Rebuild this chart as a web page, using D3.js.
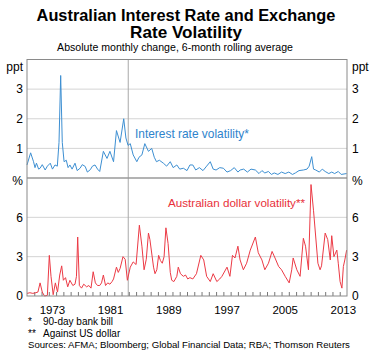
<!DOCTYPE html>
<html>
<head>
<meta charset="utf-8">
<script src="https://cdn.jsdelivr.net/npm/d3@7"></script>
<style>
  body { margin: 0; background: #fff; }
  svg { font-family: Arial, "Liberation Sans", sans-serif; }
</style>
</head>
<body>
<div id="chart"></div>
<script>
// Interest rate volatility (ppt), [decimal year, value]
const rateVol = [
  [1970.0,0.44],[1970.5,0.85],[1970.9,0.55],[1971.1,0.35],[1971.3,0.5],[1971.6,0.3],[1971.8,0.33],
  [1972.1,0.45],[1972.5,0.27],[1972.8,0.4],[1973.2,0.5],[1973.5,0.3],[1973.85,0.44],[1974.17,0.4],
  [1974.4,1.2],[1974.63,3.46],[1974.85,1.2],[1975.1,0.55],[1975.4,0.6],[1975.65,0.35],[1975.9,0.44],
  [1976.2,0.3],[1976.6,0.5],[1976.9,0.25],[1977.3,0.33],[1977.6,0.45],[1978.0,0.39],[1978.3,0.2],
  [1978.7,0.28],[1979.0,0.4],[1979.35,0.44],[1979.7,0.3],[1980.0,0.22],[1980.5,0.9],[1981.0,0.66],
  [1981.4,0.9],[1981.9,0.55],[1982.3,1.6],[1982.8,1.2],[1983.3,2.0],[1983.6,1.35],[1983.9,1.1],
  [1984.2,1.16],[1984.6,0.78],[1985.1,0.55],[1985.4,0.7],[1985.8,0.78],[1986.2,1.16],[1986.7,0.9],
  [1987.15,1.0],[1987.5,0.7],[1987.8,0.55],[1988.2,0.6],[1988.75,0.5],[1989.2,0.4],[1989.7,0.55],
  [1990.1,0.35],[1990.6,0.44],[1991.0,0.3],[1991.5,0.33],[1992.0,0.25],[1992.4,0.44],[1992.8,0.44],
  [1993.2,0.27],[1993.7,0.35],[1994.2,0.25],[1994.7,0.4],[1995.2,0.55],[1995.6,0.3],[1996.0,0.27],
  [1996.5,0.35],[1997.0,0.33],[1997.5,0.2],[1998.0,0.25],[1998.5,0.35],[1999.0,0.2],[1999.3,0.27],
  [1999.8,0.3],[2000.3,0.2],[2000.8,0.3],[2001.4,0.27],[2001.9,0.15],[2002.3,0.25],[2002.7,0.17],
  [2003.2,0.22],[2003.6,0.12],[2004.0,0.17],[2004.5,0.12],[2005.0,0.2],[2005.5,0.15],[2006.0,0.2],
  [2006.5,0.12],[2006.9,0.17],[2007.4,0.25],[2008.0,0.27],[2008.5,0.3],[2008.8,0.4],[2009.15,0.72],
  [2009.4,0.3],[2009.7,0.27],[2010.2,0.2],[2010.6,0.3],[2011.0,0.22],[2011.5,0.15],[2011.9,0.2],
  [2012.3,0.15],[2012.8,0.22],[2013.2,0.12],[2013.95,0.15]
];

// Australian dollar volatility (%), [decimal year, value]
const audVol = [
  [1970.0,0.2],[1970.4,0.25],[1970.8,0.2],[1971.2,0.25],[1971.5,0.3],[1971.8,1.0],[1972.1,0.3],
  [1972.4,0.0],[1972.8,0.05],[1973.07,3.1],[1973.3,1.5],[1973.6,0.1],[1973.9,1.0],[1974.2,0.3],
  [1974.5,1.6],[1974.77,2.3],[1975.0,1.2],[1975.3,1.4],[1975.6,0.7],[1975.9,1.2],[1976.3,0.8],
  [1976.6,0.9],[1976.8,1.5],[1976.97,4.5],[1977.2,0.8],[1977.5,0.6],[1977.8,0.9],[1978.2,0.7],
  [1978.5,0.8],[1978.8,0.6],[1979.1,1.85],[1979.4,1.0],[1979.7,0.8],[1980.0,0.8],[1980.25,1.0],
  [1980.5,1.6],[1980.8,0.8],[1981.1,1.0],[1981.4,0.9],[1981.7,1.1],[1981.9,1.3],[1982.3,2.2],
  [1982.55,1.8],[1982.8,2.1],[1983.2,3.0],[1983.5,2.8],[1983.8,1.2],[1984.2,2.2],[1984.6,2.6],
  [1985.0,2.4],[1985.45,5.4],[1985.8,3.8],[1986.1,2.0],[1986.4,2.8],[1986.7,4.8],[1986.9,4.3],
  [1987.4,2.2],[1987.6,1.7],[1987.85,2.0],[1988.1,3.1],[1988.35,2.7],[1988.6,2.5],[1988.85,3.0],
  [1989.1,5.2],[1989.4,4.0],[1989.7,1.8],[1989.9,1.2],[1990.2,1.1],[1990.6,1.5],[1990.8,2.2],
  [1991.1,1.7],[1991.5,1.5],[1991.8,1.6],[1992.1,1.3],[1992.4,1.4],[1992.8,1.3],[1993.3,1.7],
  [1993.9,3.1],[1994.3,2.75],[1994.7,1.5],[1995.2,1.1],[1995.6,1.7],[1996.1,1.1],[1996.5,1.3],
  [1996.8,1.5],[1997.5,2.2],[1997.9,1.5],[1998.25,3.1],[1998.6,2.9],[1999.0,3.8],[1999.3,2.75],
  [1999.75,2.0],[2000.2,2.5],[2000.7,3.5],[2001.4,4.5],[2001.8,3.3],[2002.3,2.75],[2002.7,2.0],
  [2003.2,2.5],[2003.7,3.4],[2004.1,2.9],[2004.6,2.25],[2005.0,2.0],[2005.5,1.5],[2006.05,1.0],
  [2006.4,2.0],[2006.6,2.9],[2007.1,2.0],[2007.55,1.5],[2008.0,4.4],[2008.3,3.8],[2008.7,2.0],
  [2009.05,8.5],[2009.4,6.5],[2009.7,4.5],[2010.0,2.5],[2010.3,2.0],[2010.5,2.3],[2011.0,4.8],
  [2011.35,4.3],[2011.7,2.75],[2011.9,4.6],[2012.2,3.0],[2012.6,3.5],[2012.8,2.5],[2013.05,1.1],
  [2013.3,0.6],[2013.5,2.25],[2013.7,2.75],[2013.95,3.5]
];

const yearLabels = [1973, 1981, 1989, 1997, 2005, 2013];
const topTicks = [1, 2, 3];
const bottomTicks = [3, 6];
const floatDate = 1983.92; // AUD float, Dec 1983

const W = 374, H = 354;
const plotLeft = 27, plotRight = 347, plotTop = 59.5, plotMid = 178, plotBottom = 296;

const svg = d3.select('#chart').append('svg')
    .attr('width', W)
    .attr('height', H);

const x = d3.scaleLinear().domain([1970, 2014]).range([plotLeft, plotRight]);
const yTop = d3.scaleLinear().domain([0, 4]).range([plotMid, plotTop]);
const yBot = d3.scaleLinear().domain([0, 9]).range([plotBottom, plotMid]);

// shrink/grow a text's font so it spans the wanted width
function fitWidth(sel, size, want) {
    sel.style('font-size', size + 'px');
    const w = sel.node().getComputedTextLength();
    if (w > 0) sel.style('font-size', (size * want / w).toFixed(2) + 'px');
    return sel;
}

// titles
fitWidth(svg.append('text').attr('x', 186).attr('y', 21).attr('text-anchor', 'middle')
    .style('font-weight', 'bold')
    .text('Australian Interest Rate and Exchange'), 16, 299);
fitWidth(svg.append('text').attr('x', 186).attr('y', 38).attr('text-anchor', 'middle')
    .style('font-weight', 'bold')
    .text('Rate Volatility'), 16, 112);
fitWidth(svg.append('text').attr('x', 175).attr('y', 50.5).attr('text-anchor', 'middle')
    .text('Absolute monthly change, 6-month rolling average'), 10.5, 236);

// gridlines
svg.append('g').selectAll('line').data(topTicks).enter().append('line')
    .attr('x1', plotLeft).attr('x2', plotRight)
    .attr('y1', d => yTop(d)).attr('y2', d => yTop(d))
    .attr('stroke', '#d4d4d4').attr('stroke-width', 1);
svg.append('g').selectAll('line').data(bottomTicks).enter().append('line')
    .attr('x1', plotLeft).attr('x2', plotRight)
    .attr('y1', d => yBot(d)).attr('y2', d => yBot(d))
    .attr('stroke', '#d4d4d4').attr('stroke-width', 1);

// float line
svg.append('line')
    .attr('x1', x(floatDate)).attr('x2', x(floatDate))
    .attr('y1', plotTop).attr('y2', plotBottom)
    .attr('stroke', '#a8a8a8').attr('stroke-width', 1);

// panel divider
svg.append('line').attr('x1', plotLeft).attr('x2', plotRight).attr('y1', plotMid).attr('y2', plotMid)
    .attr('stroke', '#9a9a9a').attr('stroke-width', 1.5);

// year ticks along bottom
const xAxis = svg.append('g')
    .attr('transform', `translate(0, ${plotBottom})`)
    .call(d3.axisBottom(x).tickValues(d3.range(1971, 2014)).tickSize(-4).tickFormat(''));
xAxis.select('.domain').remove();
xAxis.selectAll('line').attr('stroke', '#777');

// lines
const lineTop = d3.line().x(d => x(d[0])).y(d => yTop(d[1]));
const lineBot = d3.line().x(d => x(d[0])).y(d => yBot(d[1]));

svg.append('path').datum(rateVol)
    .attr('d', lineTop).attr('fill', 'none')
    .attr('stroke', '#3d8fd2').attr('stroke-width', 1);
svg.append('path').datum(audVol)
    .attr('d', lineBot).attr('fill', 'none')
    .attr('stroke', '#ec3a45').attr('stroke-width', 1);

// frame
svg.append('rect')
    .attr('x', plotLeft).attr('y', plotTop)
    .attr('width', plotRight - plotLeft).attr('height', plotBottom - plotTop)
    .attr('fill', 'none').attr('stroke', '#8a8a8a').attr('stroke-width', 1);

// y labels, both sides
const labelSize = '12px';
[{ xp: plotLeft - 4, anchor: 'end' }, { xp: plotRight + 5, anchor: 'start' }].forEach(side => {
    const g = svg.append('g').attr('text-anchor', side.anchor).style('font-size', labelSize);
    g.selectAll('.t').data(topTicks).enter().append('text')
        .attr('x', side.xp).attr('y', d => yTop(d)).attr('dy', '0.35em').text(d => d);
    g.selectAll('.b').data(bottomTicks.concat([0])).enter().append('text')
        .attr('x', side.xp).attr('y', d => yBot(d)).attr('dy', '0.35em').text(d => d);
    g.append('text').attr('x', side.xp).attr('y', plotTop + 7).attr('dy', '0.35em').text('ppt');
    g.append('text').attr('x', side.xp).attr('y', plotMid + 3).attr('dy', '0.35em').text('%');
});

// year labels
svg.append('g').selectAll('text').data(yearLabels).enter().append('text')
    .attr('x', d => x(d + 0.5)).attr('y', 314)
    .attr('text-anchor', 'middle').style('font-size', '11.5px')
    .text(d => d);

// annotations
fitWidth(svg.append('text').attr('x', 135).attr('y', 138)
    .attr('fill', '#2e83cc')
    .text('Interest rate volatility*'), 12, 114);
fitWidth(svg.append('text').attr('x', 168).attr('y', 207)
    .attr('fill', '#e8303a')
    .text('Australian dollar volatility**'), 12, 137);

// footnotes
const foot = svg.append('g').style('font-size', '10px');
foot.append('text').attr('x', 28).attr('y', 325).text('*');
foot.append('text').attr('x', 43).attr('y', 325).text('90-day bank bill');
foot.append('text').attr('x', 28).attr('y', 337).text('**');
foot.append('text').attr('x', 43).attr('y', 337).text('Against US dollar');
fitWidth(foot.append('text').attr('x', 28).attr('y', 348)
    .text('Sources: AFMA; Bloomberg; Global Financial Data; RBA; Thomson Reuters'), 10, 322);
</script>
</body>
</html>
